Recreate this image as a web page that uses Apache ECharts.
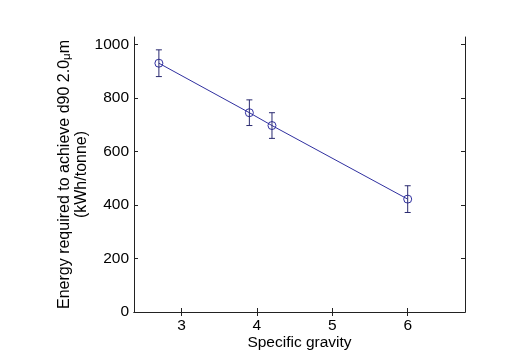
<!DOCTYPE html>
<html>
<head>
<meta charset="utf-8">
<script src="https://cdn.jsdelivr.net/npm/echarts@6/dist/echarts.min.js"></script>
<style>html,body{margin:0;padding:0;background:#fff;}#c{width:527px;height:363px;}</style>
</head>
<body>
<div id="c"></div>
<script>
const specificGravity = [2.7, 3.9, 4.2, 6.0];
const energy = [930, 745, 697, 422];
const errorHalf = [50, 48, 48, 50];
const xTicks = [3, 4, 5, 6];
const yTicks = [0, 200, 400, 600, 800, 1000];

const lineColor = '#3030a0';
const font = 'Liberation Sans, Arial, sans-serif';

const pts = specificGravity.map((x, i) => [x, energy[i]]);
const errData = specificGravity.map((x, i) => [x, energy[i] - errorHalf[i], energy[i] + errorHalf[i]]);

const chart = echarts.init(document.getElementById('c'));
function axis(extra, ticks) {
  return Object.assign({
    axisLine: { show: true, lineStyle: { color: '#222', width: 1 } },
    splitLine: { show: false },
    nameMoveOverlap: false,
    axisTick: { show: true, inside: true, length: 4, lineStyle: { color: '#222' }, customValues: ticks }
  }, extra);
}
chart.setOption({
  animation: false,
  backgroundColor: '#fff',
  grid: { left: 134, top: 37, right: 62, bottom: 51, containLabel: false },
  xAxis: [
    axis({
      type: 'value', min: 2.37, max: 6.76, position: 'bottom',
      axisLabel: { color: '#000', fontSize: 15.5, fontFamily: font, margin: 6, customValues: xTicks,
        formatter: v => String(v) },
      name: 'Specific gravity', nameLocation: 'middle', nameGap: 23,
      nameTextStyle: { color: '#000', fontSize: 15.5, fontFamily: font }
    }, xTicks),
    axis({
      type: 'value', min: 2.37, max: 6.76, position: 'top',
      axisLabel: { show: false }
    }, xTicks)
  ],
  yAxis: [
    axis({
      type: 'value', min: 0, max: 1028, position: 'left',
      axisLabel: { color: '#000', fontSize: 15.5, fontFamily: font, margin: 5, customValues: yTicks,
        formatter: v => String(v) },
      name: '{a|Energy required to achieve d90 2.0}{m|μ}{a|m}\n{a|(kWh/tonne)}',
      nameLocation: 'middle', nameRotate: 90, nameGap: 44,
      nameTextStyle: { color: '#000', fontSize: 16, fontFamily: font, lineHeight: 17,
        rich: { a: { fontSize: 16, fontFamily: font, color: '#000', lineHeight: 17 },
                m: { fontSize: 11.5, fontFamily: font, color: '#000', verticalAlign: 'bottom', lineHeight: 17 } } }
    }, yTicks),
    axis({
      type: 'value', min: 0, max: 1028, position: 'right',
      axisLabel: { show: false }
    }, yTicks)
  ],
  series: [
    {
      type: 'line', data: pts, xAxisIndex: 0, yAxisIndex: 0,
      symbol: 'circle', symbolSize: 8, showSymbol: true,
      lineStyle: { color: lineColor, width: 1 },
      itemStyle: { color: 'rgba(0,0,0,0)', borderColor: lineColor, borderWidth: 1 },
      z: 3
    },
    {
      type: 'custom', xAxisIndex: 0, yAxisIndex: 0, data: errData, z: 4,
      renderItem: function (params, api) {
        const x = api.value(0);
        const lo = api.coord([x, api.value(1)]);
        const hi = api.coord([x, api.value(2)]);
        const w = 3;
        const st = { stroke: '#2a2a70', lineWidth: 1 };
        return { type: 'group', children: [
          { type: 'line', shape: { x1: lo[0], y1: lo[1], x2: hi[0], y2: hi[1] }, style: st },
          { type: 'line', shape: { x1: lo[0] - w, y1: lo[1], x2: lo[0] + w, y2: lo[1] }, style: st },
          { type: 'line', shape: { x1: hi[0] - w, y1: hi[1], x2: hi[0] + w, y2: hi[1] }, style: st }
        ]};
      }
    }
  ]
});
</script>
</body>
</html>
